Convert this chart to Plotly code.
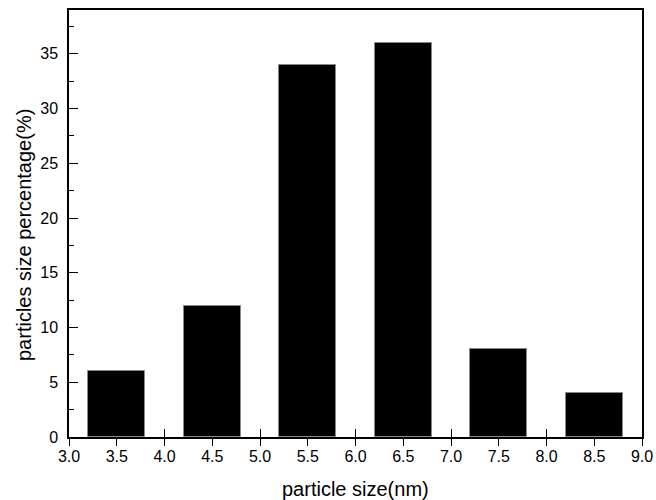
import plotly.graph_objects as go

sizes = [3.5, 4.5, 5.5, 6.5, 7.5, 8.5]
percent = [6, 12, 34, 36, 8, 4]
x_ticks = [3.0, 3.5, 4.0, 4.5, 5.0, 5.5, 6.0, 6.5, 7.0, 7.5, 8.0, 8.5, 9.0]
x_tick_labels = ["3.0", "3.5", "4.0", "4.5", "5.0", "5.5", "6.0", "6.5", "7.0", "7.5", "8.0", "8.5", "9.0"]
inner_ticks = [4, 5, 6, 7, 8]
y_ticks = [0, 5, 10, 15, 20, 25, 30, 35]

FONT = "Liberation Sans, Arial, sans-serif"

L, R, T, B = 69, 14, 10, 63
W, H = 656, 500
pw = W - L - R
ph = H - T - B

fig = go.Figure()
fig.add_trace(go.Bar(
    x=sizes, y=percent, width=0.6,
    marker=dict(color="black", line=dict(color="#888888", width=1)),
    showlegend=False, hoverinfo="x+y"))
fig.add_trace(go.Scatter(x=[3, 9], y=[0, 0], xaxis="x2", yaxis="y2", mode="markers",
                         marker=dict(opacity=0), showlegend=False, hoverinfo="skip"))

fig.update_layout(
    width=W, height=H,
    margin=dict(l=L, r=R, t=T, b=B, autoexpand=False),
    paper_bgcolor="white", plot_bgcolor="white",
    font=dict(family=FONT, color="black"),
    bargap=0,
    xaxis=dict(range=[3, 9], tickvals=x_ticks, ticktext=x_tick_labels,
               ticks="outside", ticklen=7, tickwidth=1, tickcolor="black",
               showgrid=False, zeroline=False, showline=True, linecolor="black",
               linewidth=1.5, mirror=True, tickfont=dict(size=16, family=FONT),
               ticklabelstandoff=-3, automargin=False),
    xaxis2=dict(range=[3, 9], overlaying="x", anchor="y2", side="bottom",
                tickvals=inner_ticks, showticklabels=False,
                ticks="inside", ticklen=8, tickwidth=1, tickcolor="black",
                showgrid=False, zeroline=False, showline=False, automargin=False),
    yaxis=dict(range=[0, 39], tickvals=y_ticks,
               ticks="outside", ticklen=6, tickwidth=1, tickcolor="rgba(0,0,0,0)",
               showgrid=False, zeroline=False, showline=True, linecolor="black",
               linewidth=1.5, mirror=True, tickfont=dict(size=16, family=FONT),
               automargin=False),
    yaxis2=dict(range=[0, 39], overlaying="y", anchor="x2", side="left",
                tickvals=y_ticks, showticklabels=False,
                ticks="inside", ticklen=9, tickwidth=1, tickcolor="black",
                minor=dict(dtick=2.5, tick0=0, ticks="inside", ticklen=5,
                           tickwidth=1, tickcolor="black", showgrid=False),
                showgrid=False, zeroline=False, showline=False, automargin=False),
    annotations=[
        dict(text="particle size(nm)", xref="paper", yref="paper",
             x=(355.5 - L) / pw, y=(H - B - 489) / ph,
             xanchor="center", yanchor="middle",
             showarrow=False, font=dict(size=20, family=FONT)),
        dict(text="particles size percentage(%)", xref="paper", yref="paper",
             x=(24 - L) / pw, y=(H - B - 235) / ph,
             xanchor="center", yanchor="middle",
             showarrow=False, textangle=-90, font=dict(size=20, family=FONT)),
    ],
)

fig.write_html("out.html")
